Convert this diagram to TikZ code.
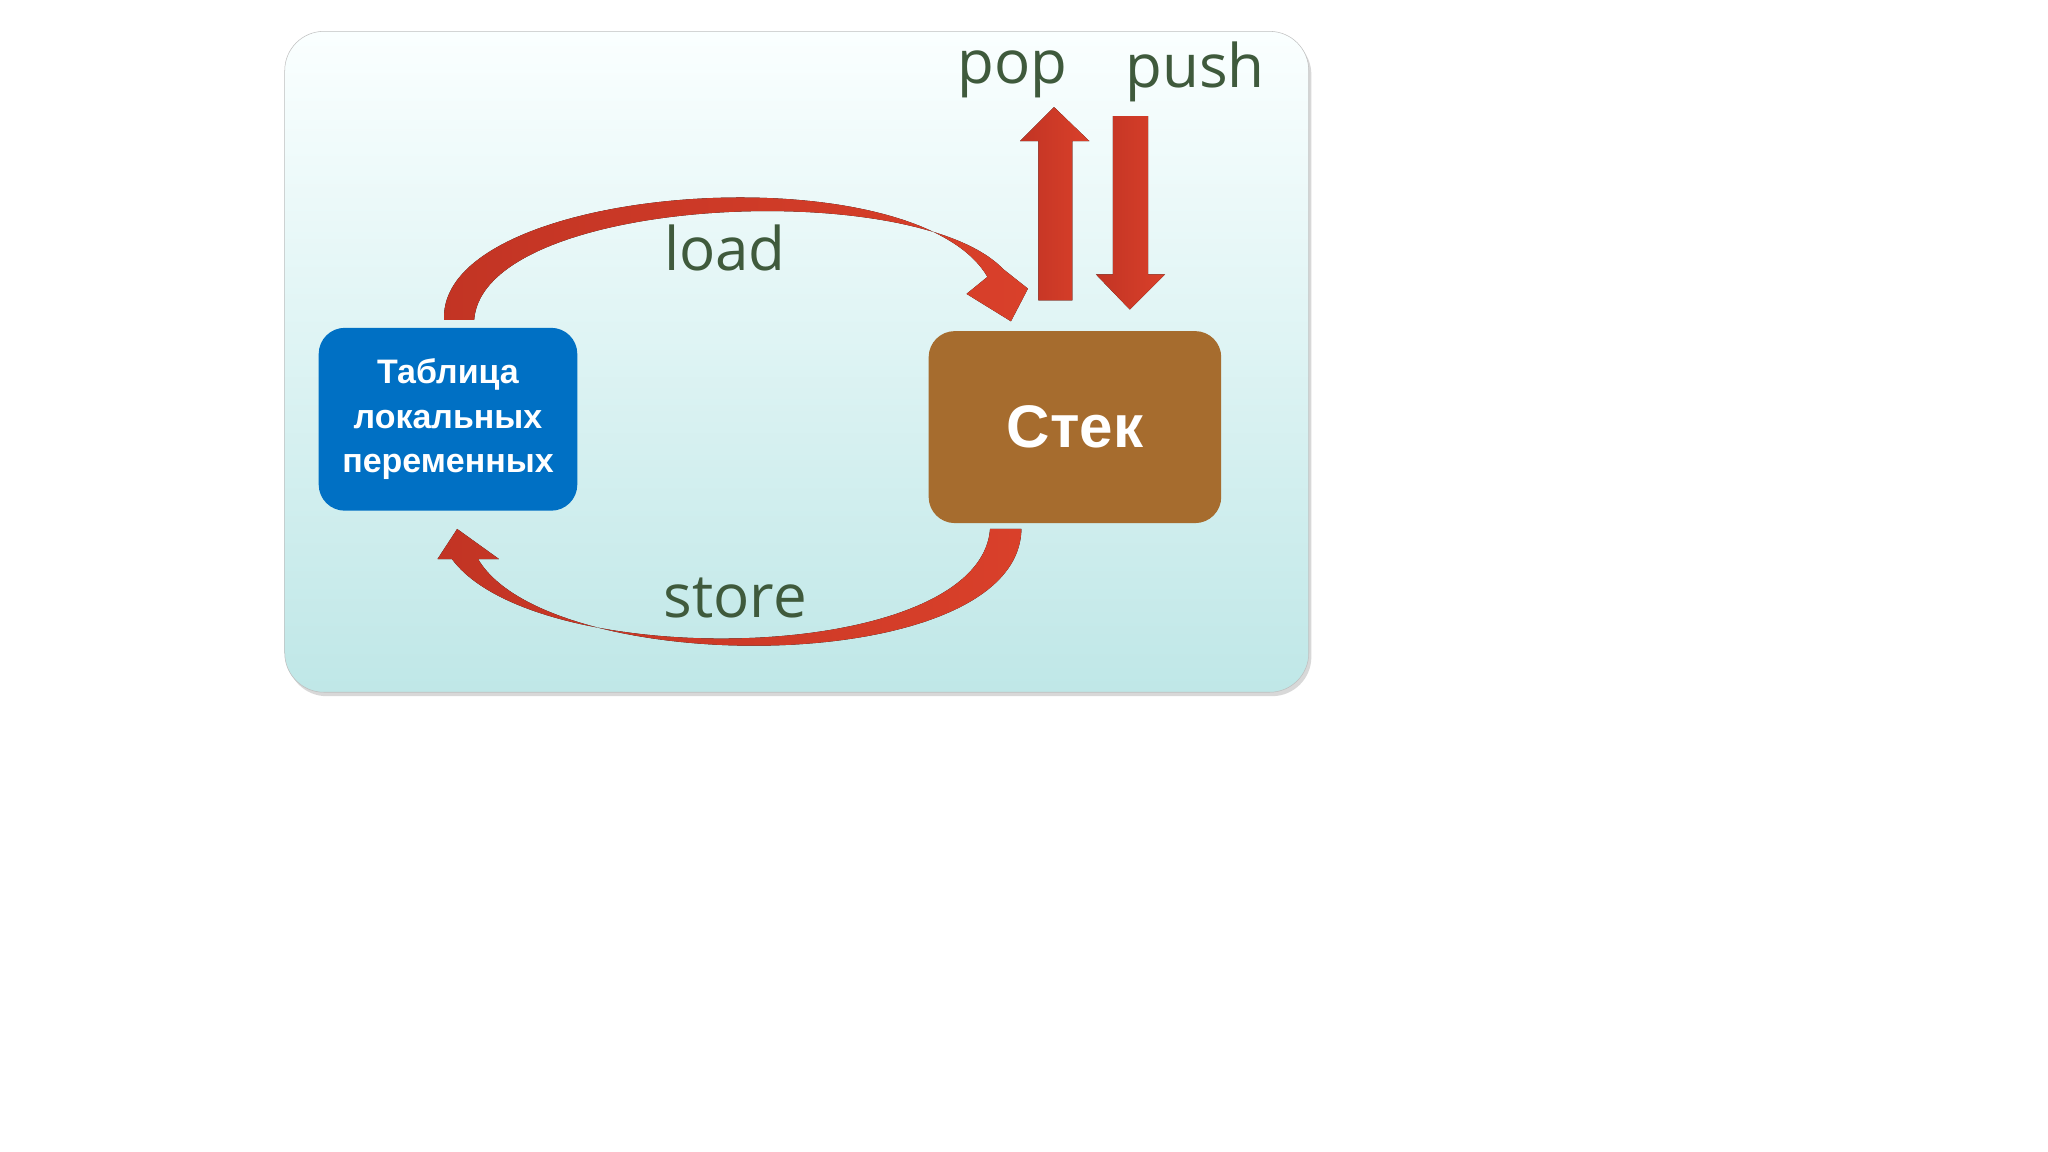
\documentclass[tikz,border=0pt]{standalone}
\usepackage{fontspec}
\setmainfont{Liberation Sans}
\newfontfamily\lbl{Open Sans}
\usetikzlibrary{shadows}
\definecolor{lblc}{HTML}{3F5A3C}
\definecolor{arr}{HTML}{D9402A}
\definecolor{arrd}{HTML}{C23424}
\definecolor{bluebox}{HTML}{0070C4}
\definecolor{brownbox}{HTML}{A66C2E}
\begin{document}
\begin{tikzpicture}[x=1pt,y=-1pt,
  lab/.style={font=\lbl\fontsize{46}{50}\selectfont,text=lblc,inner sep=0},
  box/.style={rounded corners=20pt,text=white,align=center,font=\bfseries},
  fatarrow/.style={left color=arrd,right color=arr,draw=none}]
\useasboundingbox (0,0) rectangle (1568,882);
\fill[white] (0,0) rectangle (1568,882);
\shade[top color=white!85!cyan!12,bottom color=cyan!25!teal!25!white,rounded corners=30pt,drop shadow={opacity=0.3,shadow xshift=2pt,shadow yshift=-3pt}]
  (218,24) rectangle (1002,530);
\draw[gray!50,rounded corners=30pt] (218,24) rectangle (1002,530);
\node[box,fill=bluebox,minimum width=198pt,minimum height=140pt,font=\bfseries\fontsize{26}{34}\selectfont] (tab) at (343,321) {Таблица\\локальных\\переменных};
\node[box,fill=brownbox,minimum width=224pt,minimum height=147pt,font=\bfseries\fontsize{46}{50}\selectfont] (st) at (823,327) {Стек};
% load arc
\fill[fatarrow] (340,245) .. controls (335,140) and (700,115) .. (756,212)
  -- (740,225) -- (774,246) -- (787,221) -- (768,206)
  .. controls (700,135) and (370,150) .. (363,245) -- cycle;
% store arc
\fill[fatarrow] (782,405) .. controls (780,520) and (420,520) .. (366,428)
  -- (382,428) -- (350,405) -- (335,428) -- (346,428)
  .. controls (410,515) and (750,510) .. (758,405) -- cycle;
% pop / push
\fill[fatarrow] (795,230) -- (795,108) -- (781,108) -- (807,82) -- (834,108) -- (821,108) -- (821,230) -- cycle;
\fill[fatarrow] (852,89) -- (879,89) -- (879,210) -- (892,210) -- (865,237) -- (839,210) -- (852,210) -- cycle;
\node[lab] (pop) at (775,57) {pop};
\node[lab] (push) at (915,55) {push};
\node[lab] (load) at (555,190) {load};
\node[lab] (store) at (563,458) {store};
\end{tikzpicture}
\end{document}
